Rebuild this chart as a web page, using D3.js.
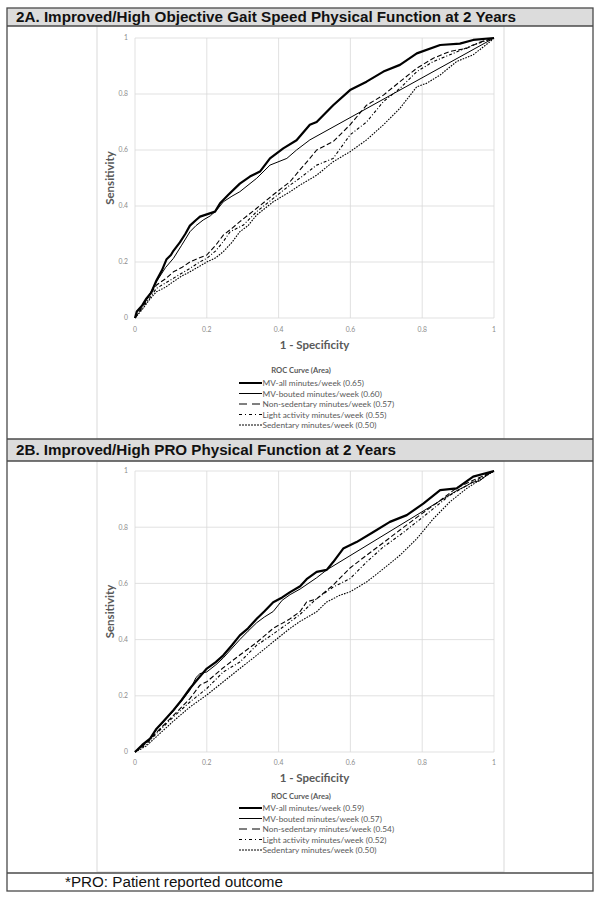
<!DOCTYPE html>
<html>
<head>
<meta charset="utf-8">
<script src="https://cdn.jsdelivr.net/npm/d3@7/dist/d3.min.js"></script>
<style>
  body { margin: 0; background: #fff; }
  text { font-family: Lato, "Open Sans", sans-serif; }
  .ttl { font-family: "Liberation Sans", Arial, sans-serif; }
</style>
</head>
<body>
<svg id="fig" width="602" height="900"></svg>
<script>
// values
const tickValues = [0, 0.2, 0.4, 0.6, 0.8, 1];
const tickLabels = ["0", "0.2", "0.4", "0.6", "0.8", "1"];
const seriesNames = ["MV-all minutes/week", "MV-bouted minutes/week", "Non-sedentary minutes/week",
  "Light activity minutes/week", "Sedentary minutes/week"];
const areasA = ["0.65", "0.60", "0.57", "0.55", "0.50"];
const areasB = ["0.59", "0.57", "0.54", "0.52", "0.50"];
const titleA = "2A. Improved/High Objective Gait Speed Physical Function at 2 Years";
const titleB = "2B. Improved/High PRO Physical Function at 2 Years";
const footnote = "*PRO: Patient reported outcome";

// panel A curves: [1 - specificity, sensitivity]
const a_mvAll = [[0,0],[0.005,0.023],[0.02,0.045],[0.032,0.07],[0.045,0.09],[0.06,0.135],[0.075,0.17],[0.088,0.21],
  [0.1,0.225],[0.107,0.24],[0.125,0.27],[0.14,0.3],[0.153,0.33],[0.17,0.35],[0.181,0.362],[0.2,0.37],[0.223,0.38],
  [0.237,0.41],[0.26,0.44],[0.292,0.48],[0.32,0.505],[0.348,0.523],[0.376,0.57],[0.413,0.606],[0.45,0.635],
  [0.487,0.69],[0.506,0.7],[0.552,0.76],[0.599,0.814],[0.645,0.844],[0.692,0.88],[0.738,0.904],[0.785,0.945],
  [0.85,0.975],[0.905,0.98],[0.942,0.993],[1,1]];
const a_mvBouted = [[0,0],[0.005,0.02],[0.03,0.06],[0.06,0.13],[0.085,0.18],[0.107,0.213],[0.13,0.26],[0.153,0.308],
  [0.17,0.33],[0.19,0.35],[0.21,0.365],[0.228,0.386],[0.246,0.415],[0.27,0.435],[0.292,0.451],[0.339,0.499],
  [0.376,0.546],[0.423,0.57],[0.45,0.6],[0.487,0.636],[1,1]];
const a_nonSed = [[0,0],[0.02,0.04],[0.04,0.08],[0.06,0.118],[0.085,0.14],[0.107,0.165],[0.13,0.18],[0.153,0.2],
  [0.18,0.215],[0.2,0.225],[0.225,0.26],[0.246,0.296],[0.27,0.32],[0.292,0.344],[0.339,0.392],[0.385,0.44],
  [0.432,0.487],[0.46,0.53],[0.487,0.57],[0.506,0.6],[0.552,0.63],[0.599,0.69],[0.645,0.76],[0.692,0.796],
  [0.738,0.844],[0.785,0.892],[0.831,0.928],[0.877,0.952],[0.924,0.963],[0.96,0.985],[1,1]];
const a_light = [[0,0],[0.02,0.035],[0.04,0.07],[0.06,0.106],[0.085,0.125],[0.107,0.142],[0.13,0.16],[0.153,0.177],
  [0.18,0.2],[0.2,0.213],[0.225,0.24],[0.246,0.273],[0.265,0.308],[0.302,0.332],[0.339,0.38],[0.385,0.427],
  [0.432,0.475],[0.46,0.5],[0.506,0.546],[0.552,0.57],[0.599,0.654],[0.645,0.7],[0.692,0.773],[0.738,0.82],
  [0.785,0.88],[0.831,0.916],[0.877,0.94],[0.942,0.975],[1,1]];
const a_sed = [[0,0],[0.02,0.03],[0.04,0.065],[0.06,0.094],[0.085,0.11],[0.107,0.13],[0.13,0.15],[0.153,0.165],
  [0.18,0.185],[0.2,0.2],[0.225,0.215],[0.246,0.237],[0.27,0.27],[0.292,0.308],[0.315,0.33],[0.339,0.368],
  [0.385,0.415],[0.432,0.451],[0.46,0.475],[0.506,0.51],[0.552,0.558],[0.599,0.594],[0.645,0.636],[0.692,0.69],
  [0.738,0.749],[0.785,0.826],[0.812,0.838],[0.85,0.868],[0.896,0.916],[0.942,0.94],[0.989,0.987],[1,1]];

// panel B curves
const b_mvAll = [[0,0],[0.02,0.025],[0.042,0.048],[0.06,0.083],[0.08,0.11],[0.107,0.149],[0.13,0.185],[0.153,0.226],
  [0.175,0.26],[0.2,0.297],[0.225,0.32],[0.246,0.344],[0.27,0.38],[0.292,0.415],[0.315,0.44],[0.339,0.474],
  [0.36,0.5],[0.385,0.533],[0.41,0.55],[0.432,0.569],[0.46,0.59],[0.478,0.615],[0.506,0.641],[0.534,0.648],
  [0.552,0.676],[0.58,0.724],[0.617,0.747],[0.664,0.783],[0.71,0.819],[0.757,0.843],[0.803,0.884],[0.85,0.932],
  [0.896,0.938],[0.942,0.98],[1,1]];
const b_mvBouted = [[0,0],[0.02,0.022],[0.042,0.045],[0.06,0.08],[0.107,0.145],[0.153,0.22],[0.17,0.265],[0.181,0.279],
  [0.2,0.285],[0.225,0.31],[0.246,0.335],[0.292,0.4],[0.315,0.43],[0.339,0.46],[0.36,0.48],[0.385,0.5],[0.41,0.54],
  [0.432,0.56],[0.46,0.58],[0.506,0.62],[0.534,0.648],[0.896,0.93],[0.92,0.945],[0.94,0.96],[0.96,0.965],
  [0.98,0.985],[1,1]];
const b_nonSed = [[0,0],[0.03,0.03],[0.06,0.07],[0.107,0.13],[0.153,0.19],[0.181,0.238],[0.2,0.25],[0.246,0.3],
  [0.292,0.345],[0.339,0.39],[0.385,0.44],[0.432,0.474],[0.46,0.5],[0.478,0.534],[0.506,0.545],[0.552,0.594],
  [0.599,0.655],[0.645,0.7],[0.692,0.745],[0.738,0.79],[0.785,0.835],[0.812,0.86],[0.85,0.895],[0.896,0.94],
  [0.942,0.967],[1,1]];
const b_light = [[0,0],[0.03,0.025],[0.06,0.066],[0.107,0.125],[0.153,0.178],[0.2,0.226],[0.246,0.285],[0.292,0.32],
  [0.339,0.38],[0.385,0.42],[0.432,0.463],[0.46,0.49],[0.506,0.546],[0.552,0.587],[0.599,0.617],[0.645,0.676],
  [0.692,0.73],[0.738,0.772],[0.785,0.819],[0.831,0.866],[0.877,0.914],[0.942,0.961],[1,1]];
const b_sed = [[0,0],[0.03,0.02],[0.06,0.055],[0.107,0.11],[0.153,0.16],[0.2,0.203],[0.246,0.25],[0.292,0.297],
  [0.339,0.344],[0.385,0.392],[0.432,0.44],[0.46,0.465],[0.506,0.499],[0.534,0.534],[0.571,0.558],[0.599,0.57],
  [0.645,0.605],[0.692,0.652],[0.738,0.7],[0.785,0.759],[0.831,0.83],[0.877,0.89],[0.924,0.938],[0.975,0.98],[1,1]];

// line styles per series (thick, thin, long dash, dash-dot, short dash)
const styles = [
  {w: 2.2, dash: null,        legDash: null},
  {w: 1.0, dash: null,        legDash: null},
  {w: 1.1, dash: "5,2.5",     legDash: "8,5"},
  {w: 1.1, dash: "3,2,1,2",   legDash: "3,3,1,3"},
  {w: 1.1, dash: "1.6,1.2",   legDash: "2,1"}
];

const svg = d3.select("#fig");
const frameGray = "#d9d9d9", textGray = "#595959", tickGray = "#8c8c8c";

// header bands
svg.append("rect").attr("x", 7).attr("y", 8).attr("width", 586).attr("height", 18).attr("fill", "#dcdcdc");
svg.append("rect").attr("x", 7).attr("y", 439).attr("width", 586).attr("height", 22).attr("fill", "#dcdcdc");

const panels = [
  {title: titleA, band: [8, 26], frame: [26, 439], plot: [38, 318], tickY: 331.5, axY: 349, legY: 372.5, rowY: 386, rowH: 10.5,
    curves: [a_mvAll, a_mvBouted, a_nonSed, a_light, a_sed], areas: areasA, tlen: 500},
  {title: titleB, band: [439, 461], frame: [461, 872], plot: [471, 752], tickY: 764.5, axY: 782, legY: 798.5, rowY: 811, rowH: 10.5,
    curves: [b_mvAll, b_mvBouted, b_nonSed, b_light, b_sed], areas: areasB, tlen: 380}
];

panels.forEach(p => {
  // chart area border
  svg.append("rect").attr("x", 97).attr("y", p.frame[0]).attr("width", 407).attr("height", p.frame[1] - p.frame[0])
    .attr("fill", "none").attr("stroke", frameGray).attr("stroke-width", 1);

  svg.append("text").attr("class", "ttl").attr("x", 16).attr("y", (p.band[0] + p.band[1]) / 2 + 5)
    .attr("font-size", 14).attr("font-weight", "bold").attr("fill", "#111")
    .attr("textLength", p.tlen).attr("lengthAdjust", "spacingAndGlyphs")
    .text(p.title);

  const x = d3.scaleLinear().domain([0, 1]).range([135, 494]);
  const y = d3.scaleLinear().domain([0, 1]).range([p.plot[1], p.plot[0]]);

  // gridlines
  const g = svg.append("g");
  g.selectAll("line.gx").data(tickValues).join("line")
    .attr("x1", d => x(d)).attr("x2", d => x(d)).attr("y1", y(0)).attr("y2", y(1))
    .attr("stroke", frameGray).attr("stroke-width", 0.8);
  g.selectAll("line.gy").data(tickValues).join("line")
    .attr("x1", x(0)).attr("x2", x(1)).attr("y1", d => y(d)).attr("y2", d => y(d))
    .attr("stroke", frameGray).attr("stroke-width", 0.8);

  // tick labels
  g.selectAll("text.tx").data(tickValues).join("text")
    .attr("x", d => x(d)).attr("y", p.tickY).attr("text-anchor", "middle")
    .attr("font-size", 6.8).attr("fill", tickGray).text((d, i) => tickLabels[i]);
  g.selectAll("text.ty").data(tickValues).join("text")
    .attr("x", 128).attr("y", d => y(d) + 2.3).attr("text-anchor", "end")
    .attr("font-size", 6.8).attr("fill", tickGray).text((d, i) => tickLabels[i]);

  // axis titles
  svg.append("text").attr("x", (x(0) + x(1)) / 2).attr("y", p.axY).attr("text-anchor", "middle")
    .attr("font-size", 11.5).attr("font-weight", "bold").attr("fill", textGray).text("1 - Specificity");
  svg.append("text").attr("transform", `translate(114,${(y(0) + y(1)) / 2}) rotate(-90)`)
    .attr("text-anchor", "middle").attr("font-size", 11.5).attr("font-weight", "bold").attr("fill", textGray)
    .text("Sensitivity");

  // curves
  const line = d3.line().x(d => x(d[0])).y(d => y(d[1]));
  svg.append("g").selectAll("path").data(p.curves).join("path")
    .attr("d", line).attr("fill", "none").attr("stroke", "#000")
    .attr("stroke-width", (d, i) => styles[i].w)
    .attr("stroke-dasharray", (d, i) => styles[i].dash)
    .attr("stroke-linejoin", "round");

  // legend
  svg.append("text").attr("x", 301).attr("y", p.legY).attr("text-anchor", "middle")
    .attr("font-size", 7.6).attr("font-weight", "bold").attr("fill", textGray).text("ROC Curve (Area)");
  const leg = svg.append("g").selectAll("g").data(seriesNames).join("g")
    .attr("transform", (d, i) => `translate(0,${p.rowY + i * p.rowH})`);
  leg.append("line").attr("x1", 239).attr("x2", 262).attr("y1", -3).attr("y2", -3)
    .attr("stroke", "#000").attr("stroke-width", (d, i) => i === 0 ? 2 : 1)
    .attr("stroke-dasharray", (d, i) => styles[i].legDash);
  leg.append("text").attr("x", 262.5).attr("y", 0).attr("font-size", 8.3).attr("fill", textGray)
    .text((d, i) => `${d} (${p.areas[i]})`);
});

// outer table lines
const dark = "#4a4a4a";
svg.append("rect").attr("x", 7).attr("y", 8).attr("width", 586).attr("height", 883)
  .attr("fill", "none").attr("stroke", dark).attr("stroke-width", 1.3);
[26, 439, 461, 873].forEach(yy => {
  svg.append("line").attr("x1", 7).attr("x2", 593).attr("y1", yy).attr("y2", yy)
    .attr("stroke", dark).attr("stroke-width", 1.3);
});

svg.append("text").attr("class", "ttl").attr("x", 65).attr("y", 887).attr("font-size", 14).attr("fill", "#111")
  .attr("textLength", 218).attr("lengthAdjust", "spacingAndGlyphs").text(footnote);
</script>
</body>
</html>
